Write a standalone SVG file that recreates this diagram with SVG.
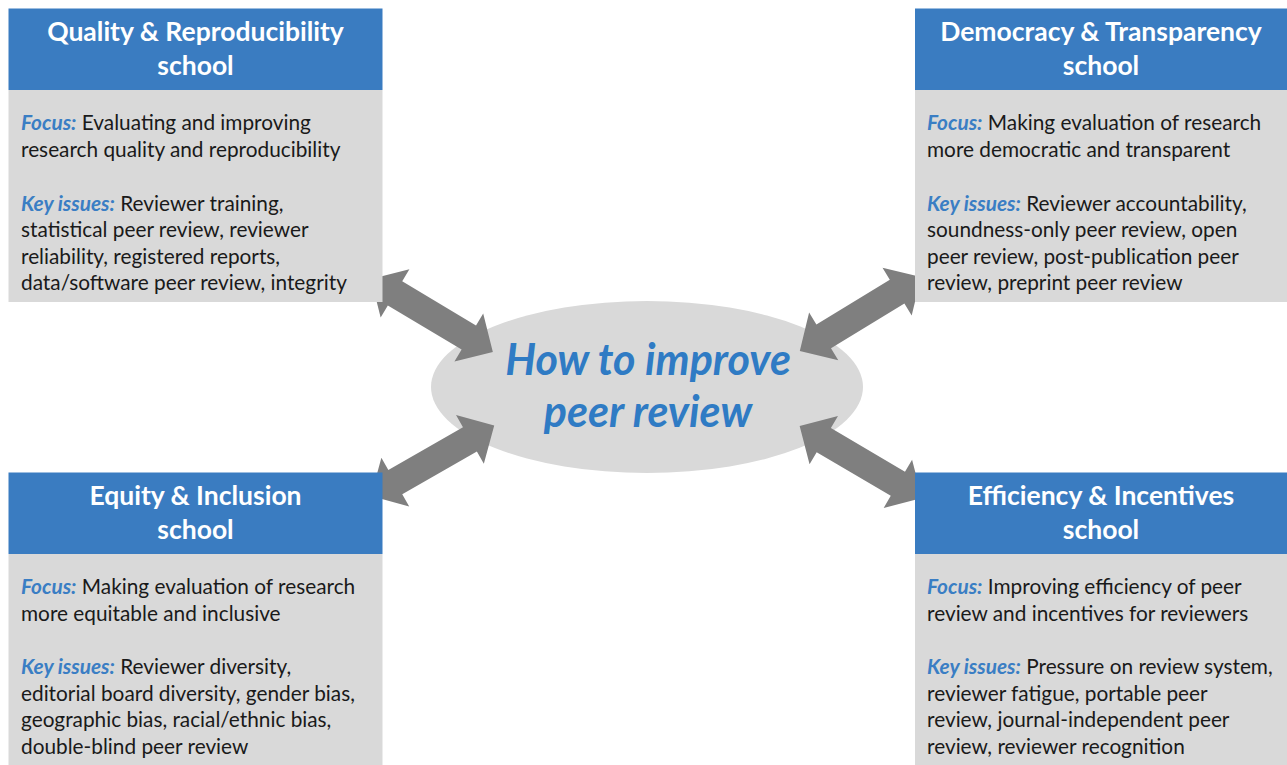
<svg xmlns="http://www.w3.org/2000/svg" width="1287" height="765" viewBox="0 0 1287 765">
<style>
.hdr{fill:#3A7CC1}
.body{fill:#D9D9D9}
.ht{font-family:Lato,"Liberation Sans",sans-serif;font-weight:bold;font-size:26.5px;fill:#FFFFFF;text-anchor:middle}
.bt{font-family:Lato,"Liberation Sans",sans-serif;font-size:20.8px;fill:#1A1A1A}
.lab{font-style:italic;font-weight:bold;fill:#3A7EC4}
.ct{font-family:Lato,"Liberation Sans",sans-serif;font-style:italic;font-weight:bold;font-size:43px;fill:#2F7BC4;text-anchor:middle}
.arr{fill:#7F7F7F}
</style>
<defs>
<polygon id="dbl" points="0,0 28,-28 28,-14 114,-14 114,-28 142,0 114,28 114,14 28,14 28,28"/>
</defs>
<rect width="1287" height="765" fill="#FFFFFF"/>

<g id="center">
<ellipse cx="647" cy="387" rx="216" ry="86" fill="#D9D9D9"/>
<text class="ct" x="648" y="375">How to improve</text>
<text class="ct" x="648" y="427">peer review</text>
</g>

<g id="connectors" class="arr">
<use href="#dbl" transform="translate(371,279) rotate(30.9)"/>
<use href="#dbl" transform="translate(921,277) rotate(148.6)"/>
<use href="#dbl" transform="translate(371,496) rotate(-29.8)"/>
<use href="#dbl" transform="translate(922,498) rotate(-149.5)"/>
</g>

<g id="quality">
<rect class="hdr" x="8.5" y="8.5" width="374" height="81.5"/>
<rect class="body" x="8.5" y="90" width="374" height="212"/>
<text class="ht" x="195.5" y="41">Quality &amp; Reproducibility</text>
<text class="ht" x="195.5" y="75">school</text>
<text class="bt" x="21" y="130"><tspan class="lab">Focus:</tspan> Evaluating and improving</text>
<text class="bt" x="21" y="157">research quality and reproducibility</text>
<text class="bt" x="21" y="211"><tspan class="lab">Key issues:</tspan> Reviewer training,</text>
<text class="bt" x="21" y="237">statistical peer review, reviewer</text>
<text class="bt" x="21" y="264">reliability, registered reports,</text>
<text class="bt" x="21" y="290">data/software peer review, integrity</text>
</g>

<g id="democracy">
<rect class="hdr" x="915" y="8.5" width="372" height="81.5"/>
<rect class="body" x="915" y="90" width="372" height="212"/>
<text class="ht" x="1101" y="41">Democracy &amp; Transparency</text>
<text class="ht" x="1101" y="75">school</text>
<text class="bt" x="927" y="130"><tspan class="lab">Focus:</tspan> Making evaluation of research</text>
<text class="bt" x="927" y="157">more democratic and transparent</text>
<text class="bt" x="927" y="211"><tspan class="lab">Key issues:</tspan> Reviewer accountability,</text>
<text class="bt" x="927" y="237">soundness-only peer review, open</text>
<text class="bt" x="927" y="264">peer review, post-publication peer</text>
<text class="bt" x="927" y="290">review, preprint peer review</text>
</g>

<g id="equity">
<rect class="hdr" x="8.5" y="472.5" width="374" height="81.5"/>
<rect class="body" x="8.5" y="554" width="374" height="211"/>
<text class="ht" x="195.5" y="505">Equity &amp; Inclusion</text>
<text class="ht" x="195.5" y="539">school</text>
<text class="bt" x="21" y="594"><tspan class="lab">Focus:</tspan> Making evaluation of research</text>
<text class="bt" x="21" y="621">more equitable and inclusive</text>
<text class="bt" x="21" y="674"><tspan class="lab">Key issues:</tspan> Reviewer diversity,</text>
<text class="bt" x="21" y="701">editorial board diversity, gender bias,</text>
<text class="bt" x="21" y="727">geographic bias, racial/ethnic bias,</text>
<text class="bt" x="21" y="754">double-blind peer review</text>
</g>

<g id="efficiency">
<rect class="hdr" x="915" y="472.5" width="372" height="81.5"/>
<rect class="body" x="915" y="554" width="372" height="211"/>
<text class="ht" x="1101" y="505">Efficiency &amp; Incentives</text>
<text class="ht" x="1101" y="539">school</text>
<text class="bt" x="927" y="594"><tspan class="lab">Focus:</tspan> Improving efficiency of peer</text>
<text class="bt" x="927" y="621">review and incentives for reviewers</text>
<text class="bt" x="927" y="674"><tspan class="lab">Key issues:</tspan> Pressure on review system,</text>
<text class="bt" x="927" y="701">reviewer fatigue, portable peer</text>
<text class="bt" x="927" y="727">review, journal-independent peer</text>
<text class="bt" x="927" y="754">review, reviewer recognition</text>
</g>
</svg>
